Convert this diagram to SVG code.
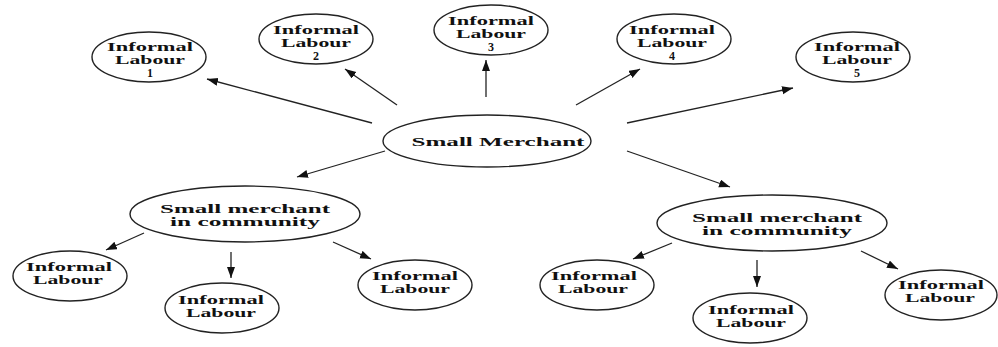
<svg xmlns="http://www.w3.org/2000/svg" width="998" height="347" viewBox="0 0 998 347">
<defs>
<style>
.n ellipse{fill:#fff;stroke:#222;stroke-width:1.4}
text{font-family:"Liberation Serif","Times New Roman",serif;font-weight:bold;font-size:12px;fill:#111;text-anchor:middle}
#connectors line{stroke:#222;stroke-width:1.3}
</style>
<marker id="ah" markerUnits="userSpaceOnUse" markerWidth="12" markerHeight="10" refX="11" refY="4" orient="auto">
<path d="M0,0 L11,4 L0,8 z" fill="#111"/>
</marker>
</defs>
<rect width="998" height="347" fill="#fff"/>
<g id="connectors">
<line x1="372" y1="123" x2="207" y2="79" marker-end="url(#ah)"/>
<line x1="397" y1="105" x2="345" y2="69" marker-end="url(#ah)"/>
<line x1="486" y1="97" x2="486" y2="60" marker-end="url(#ah)"/>
<line x1="576" y1="105" x2="640" y2="69" marker-end="url(#ah)"/>
<line x1="627" y1="123" x2="793" y2="88" marker-end="url(#ah)"/>
<line x1="385" y1="151" x2="297" y2="177" marker-end="url(#ah)"/>
<line x1="627" y1="151" x2="730" y2="187" marker-end="url(#ah)"/>
<line x1="144" y1="233" x2="106" y2="250" marker-end="url(#ah)"/>
<line x1="231" y1="252" x2="231" y2="278" marker-end="url(#ah)"/>
<line x1="333" y1="242" x2="371" y2="259" marker-end="url(#ah)"/>
<line x1="672" y1="243" x2="633" y2="259" marker-end="url(#ah)"/>
<line x1="757" y1="260" x2="757" y2="287" marker-end="url(#ah)"/>
<line x1="861" y1="251" x2="898" y2="269" marker-end="url(#ah)"/>
</g>
<g id="main" class="n">
<ellipse cx="487" cy="141" rx="104" ry="26"/>
<text x="498" y="146" textLength="173" lengthAdjust="spacingAndGlyphs" font-size="13">Small Merchant</text>
</g>
<g id="l1" class="n">
<ellipse cx="149" cy="57" rx="57" ry="25"/>
<text x="150" y="51" textLength="86" lengthAdjust="spacingAndGlyphs">Informal</text>
<text x="150" y="64" textLength="70" lengthAdjust="spacingAndGlyphs">Labour</text>
<text x="150" y="77">1</text>
</g>
<g id="l2" class="n">
<ellipse cx="316" cy="39" rx="57" ry="25"/>
<text x="316" y="34" textLength="86" lengthAdjust="spacingAndGlyphs">Informal</text>
<text x="316" y="47" textLength="70" lengthAdjust="spacingAndGlyphs">Labour</text>
<text x="316" y="60">2</text>
</g>
<g id="l3" class="n">
<ellipse cx="491" cy="30" rx="57" ry="25"/>
<text x="491" y="25" textLength="86" lengthAdjust="spacingAndGlyphs">Informal</text>
<text x="491" y="38" textLength="70" lengthAdjust="spacingAndGlyphs">Labour</text>
<text x="491" y="51">3</text>
</g>
<g id="l4" class="n">
<ellipse cx="674" cy="39" rx="57" ry="25"/>
<text x="672" y="34" textLength="86" lengthAdjust="spacingAndGlyphs">Informal</text>
<text x="672" y="47" textLength="70" lengthAdjust="spacingAndGlyphs">Labour</text>
<text x="672" y="60">4</text>
</g>
<g id="l5" class="n">
<ellipse cx="853" cy="57" rx="57" ry="25"/>
<text x="857" y="51" textLength="86" lengthAdjust="spacingAndGlyphs">Informal</text>
<text x="857" y="64" textLength="70" lengthAdjust="spacingAndGlyphs">Labour</text>
<text x="857" y="77">5</text>
</g>
<g id="cl" class="n">
<ellipse cx="245" cy="214" rx="115" ry="28"/>
<text x="245" y="213" textLength="170" lengthAdjust="spacingAndGlyphs">Small merchant</text>
<text x="245" y="226" textLength="150" lengthAdjust="spacingAndGlyphs">in community</text>
</g>
<g id="cla" class="n">
<ellipse cx="70" cy="276" rx="57" ry="25"/>
<text x="69" y="271" textLength="86" lengthAdjust="spacingAndGlyphs">Informal</text>
<text x="68" y="284" textLength="70" lengthAdjust="spacingAndGlyphs">Labour</text>
</g>
<g id="clb" class="n">
<ellipse cx="222" cy="308" rx="57" ry="25"/>
<text x="221" y="304" textLength="86" lengthAdjust="spacingAndGlyphs">Informal</text>
<text x="221" y="317" textLength="70" lengthAdjust="spacingAndGlyphs">Labour</text>
</g>
<g id="clc" class="n">
<ellipse cx="415" cy="285" rx="57" ry="25"/>
<text x="415" y="280" textLength="86" lengthAdjust="spacingAndGlyphs">Informal</text>
<text x="415" y="293" textLength="70" lengthAdjust="spacingAndGlyphs">Labour</text>
</g>
<g id="cr" class="n">
<ellipse cx="772" cy="223" rx="115" ry="28"/>
<text x="777" y="222" textLength="170" lengthAdjust="spacingAndGlyphs">Small merchant</text>
<text x="777" y="235" textLength="150" lengthAdjust="spacingAndGlyphs">in community</text>
</g>
<g id="cra" class="n">
<ellipse cx="597" cy="285" rx="57" ry="25"/>
<text x="594" y="280" textLength="86" lengthAdjust="spacingAndGlyphs">Informal</text>
<text x="593" y="293" textLength="70" lengthAdjust="spacingAndGlyphs">Labour</text>
</g>
<g id="crb" class="n">
<ellipse cx="750" cy="318" rx="57" ry="25"/>
<text x="751" y="314" textLength="86" lengthAdjust="spacingAndGlyphs">Informal</text>
<text x="751" y="327" textLength="70" lengthAdjust="spacingAndGlyphs">Labour</text>
</g>
<g id="crc" class="n">
<ellipse cx="941" cy="295" rx="56" ry="25"/>
<text x="941" y="289" textLength="86" lengthAdjust="spacingAndGlyphs">Informal</text>
<text x="940" y="302" textLength="70" lengthAdjust="spacingAndGlyphs">Labour</text>
</g>
</svg>
